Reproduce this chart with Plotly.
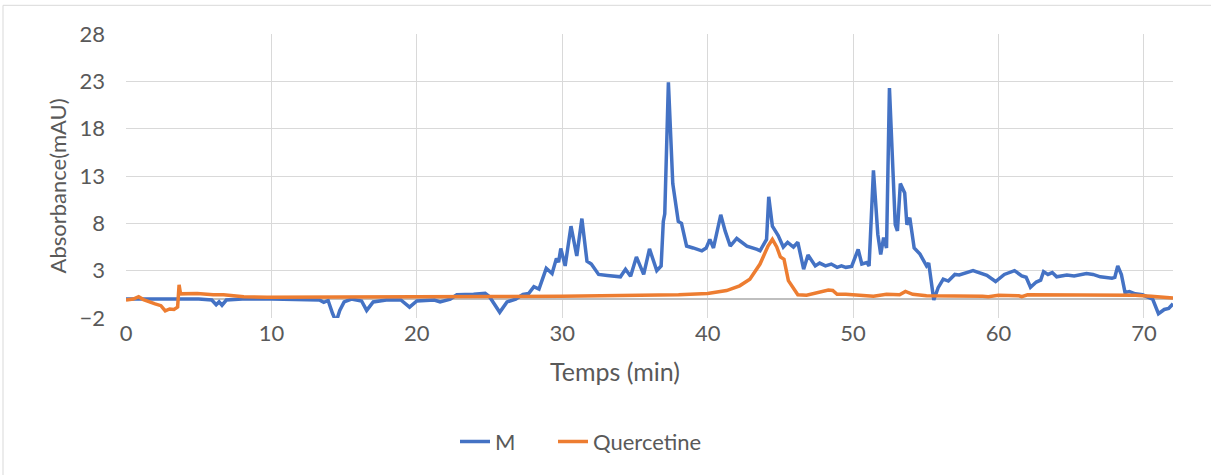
import plotly.graph_objects as go

# ---- data ----
m_time = [0, 1, 3, 5, 5.9, 6.2, 6.4, 6.6, 6.9, 8, 10, 12, 13.3, 13.6, 13.9, 14.2, 14.45, 14.7,
          15.0, 15.5, 16.2, 16.55, 17.0, 17.9, 18.9, 19.5, 20.0, 21.2, 21.6, 22.3, 22.75, 23.9,
          24.7, 25.0, 25.7, 26.2, 26.8, 27.3, 27.7, 28.05, 28.4, 28.9, 29.3, 29.6, 29.75, 29.9,
          30.2, 30.6, 31.0, 31.35, 31.7, 32.0, 32.5, 33.1, 34.0, 34.35, 34.7, 35.1, 35.6, 36.0,
          36.5, 36.8, 36.95, 37.05, 37.3, 37.6, 37.98, 38.2, 38.55, 39.0, 39.6, 39.9, 40.15,
          40.4, 40.9, 41.2, 41.55, 42.0, 42.7, 43.4, 43.6, 44.05, 44.2, 44.45, 44.85, 45.2,
          45.5, 45.9, 46.2, 46.6, 46.9, 47.4, 47.7, 48.1, 48.5, 48.9, 49.2, 49.5, 49.9, 50.35,
          50.6, 50.95, 51.1, 51.4, 51.7, 51.9, 52.1, 52.3, 52.5, 52.9, 53.05, 53.25, 53.55,
          53.7, 53.9, 54.2, 54.6, 55.05, 55.2, 55.55, 55.85, 56.2, 56.55, 57.0, 57.3, 58.25,
          58.9, 59.2, 59.8, 60.4, 61.1, 61.6, 61.9, 62.2, 62.6, 62.9, 63.1, 63.4, 63.7, 64.0,
          64.7, 65.2, 66.05, 66.5, 67.0, 67.8, 68.0, 68.2, 68.45, 68.7, 69.0, 69.4, 69.9, 70.6,
          71.0, 71.4, 71.7, 72.0]
m_abs = [0.0, 0.0, 0.0, 0.0, -0.1, -0.6, -0.3, -0.65, -0.1, 0.0, 0.0, -0.05, -0.1, -0.35, -0.15,
         -1.5, -2.4, -1.2, -0.3, 0.0, -0.2, -1.2, -0.3, -0.1, -0.1, -0.85, -0.2, -0.1, -0.3, 0.0,
         0.45, 0.5, 0.6, 0.25, -1.4, -0.3, 0.0, 0.5, 0.6, 1.3, 1.05, 3.25, 2.7, 4.3, 3.9, 5.35,
         3.5, 7.7, 4.55, 8.5, 4.0, 3.7, 2.6, 2.5, 2.35, 3.15, 2.4, 4.45, 2.6, 5.3, 3.0, 3.5, 8.2,
         9.0, 22.9, 12.2, 8.2, 8.0, 5.6, 5.4, 5.1, 5.4, 6.3, 5.4, 8.9, 7.2, 5.6, 6.4, 5.6, 5.25,
         5.1, 6.3, 10.8, 7.7, 6.7, 5.5, 6.0, 5.5, 6.0, 3.15, 4.65, 3.5, 3.8, 3.5, 3.7, 3.35, 3.5,
         3.35, 3.45, 5.25, 3.7, 3.85, 3.5, 13.6, 6.85, 4.7, 6.5, 5.4, 22.3, 7.85, 7.2, 12.2, 11.2,
         7.85, 8.6, 5.4, 4.75, 3.5, 3.8, -0.1, 1.2, 2.1, 1.9, 2.6, 2.55, 3.0, 2.6, 2.5, 1.85,
         2.6, 3.0, 2.45, 2.3, 1.25, 1.8, 2.0, 2.9, 2.6, 2.8, 2.35, 2.55, 2.45, 2.7, 2.6, 2.35,
         2.2, 2.3, 3.5, 2.6, 0.7, 0.8, 0.55, 0.45, 0.0, -1.55, -1.1, -1.0, -0.5]

q_time = [0, 0.5, 0.87, 1.2, 2.0, 2.4, 2.7, 3.0, 3.3, 3.55, 3.65, 3.75, 4.9, 6.0, 6.7, 8.1, 9.7,
          15, 20, 25, 30, 35, 38, 40, 41.3, 42.2, 42.9, 43.6, 44.15, 44.45, 44.75, 45.0, 45.25,
          45.55, 45.9, 46.2, 46.8, 47.7, 48.3, 48.6, 48.9, 49.5, 50.9, 51.4, 52.3, 53.2, 53.6,
          54.1, 55.05, 57.3, 58.9, 59.3, 60.0, 61.4, 61.6, 62.0, 65, 68, 69.4, 70.5, 72]
q_abs = [-0.1, 0.0, 0.25, -0.05, -0.5, -0.7, -1.25, -1.05, -1.1, -0.85, 1.5, 0.55, 0.6, 0.45,
         0.45, 0.25, 0.2, 0.2, 0.25, 0.27, 0.3, 0.35, 0.45, 0.6, 0.9, 1.4, 2.1, 3.7, 5.6, 6.3,
         5.5, 4.45, 4.2, 1.95, 1.1, 0.45, 0.4, 0.7, 0.95, 0.9, 0.5, 0.5, 0.4, 0.3, 0.5, 0.45,
         0.8, 0.5, 0.35, 0.35, 0.3, 0.25, 0.4, 0.35, 0.25, 0.45, 0.45, 0.45, 0.4, 0.3, 0.1]

y_ticks = [-2, 3, 8, 13, 18, 23, 28]
x_ticks = [0, 10, 20, 30, 40, 50, 60, 70]

# ---- figure ----
FONT = "Lato"
TXT = "#595959"

# plot-area pixel geometry used to place paper-referenced items
L, R, T, B = 126, 1173, 34, 321
W, H = R - L, B - T
def px(x):
    return (x - L) / W
def py(y):
    return (B - y) / H

fig = go.Figure()
fig.add_trace(go.Scatter(x=m_time, y=m_abs, mode="lines", name="M",
                         line=dict(color="#4472C4", width=3.5), legend="legend"))
fig.add_trace(go.Scatter(x=q_time, y=q_abs, mode="lines", name="Quercetine",
                         line=dict(color="#ED7D31", width=3.5), legend="legend2"))

leg_common = dict(orientation="h", y=py(446), yanchor="middle", xanchor="left",
                  font=dict(size=22, color=TXT), bgcolor="rgba(0,0,0,0)")

fig.update_layout(
    width=1211, height=475,
    margin=dict(l=L, r=1211 - R, t=T, b=475 - B, pad=0),
    paper_bgcolor="white", plot_bgcolor="white",
    font=dict(family=FONT, color=TXT, size=22),
    showlegend=True,
    legend=dict(x=px(455), **leg_common),
    legend2=dict(x=px(553), **leg_common),
    xaxis=dict(range=[0, 72], tickmode="array", tickvals=x_ticks,
               showgrid=True, gridcolor="#D9D9D9", gridwidth=1,
               zeroline=False, showline=False, ticks="",
               tickfont=dict(size=22, color=TXT), ticklabelstandoff=0),
    yaxis=dict(range=[-2, 28], tickmode="array", tickvals=y_ticks,
               showgrid=True, gridcolor="#D9D9D9", gridwidth=1,
               zeroline=True, zerolinecolor="#BFBFBF", zerolinewidth=1.5,
               showline=False, ticks="", tickfont=dict(size=22, color=TXT),
               ticklabelstandoff=20),
    annotations=[
        dict(text="Temps (min)", xref="paper", yref="paper", x=px(615), y=py(375),
             showarrow=False, font=dict(size=25, color=TXT), xanchor="center", yanchor="middle"),
        dict(text="Absorbance(mAU)", xref="paper", yref="paper", x=px(57), y=py(188),
             textangle=-90, showarrow=False, font=dict(size=22, color=TXT),
             xanchor="center", yanchor="middle"),
    ],
    shapes=[
        dict(type="rect", xref="paper", yref="paper", x0=px(3), x1=px(1230), y0=py(5), y1=py(490),
             line=dict(color="#D9D9D9", width=1), fillcolor="rgba(0,0,0,0)", layer="below"),
    ],
)

fig.write_html("out.html")
